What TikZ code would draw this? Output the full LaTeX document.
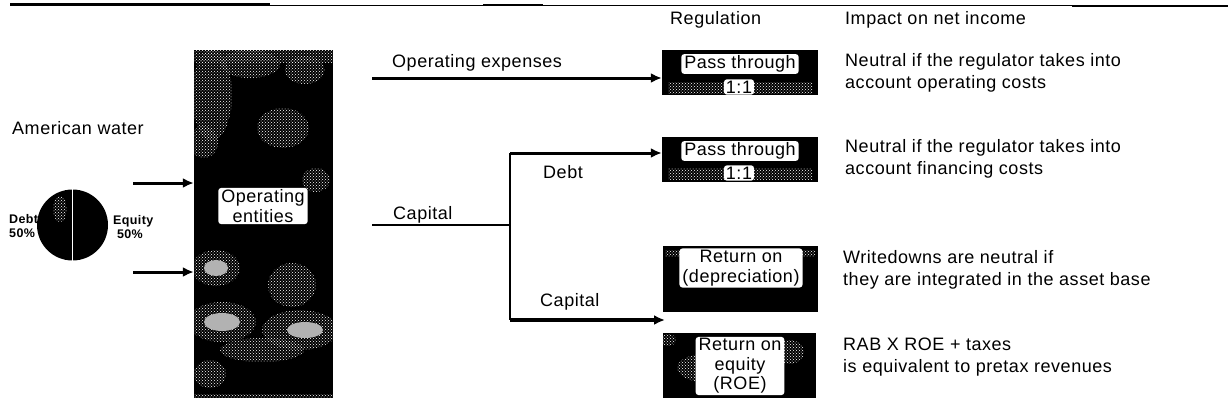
\documentclass[tikz,border=0pt]{standalone}
\usepackage{fontspec}
\setmainfont{Liberation Sans}[LetterSpace=3]
\usetikzlibrary{arrows.meta,patterns}
\begin{document}
\begin{tikzpicture}[x=1pt,y=-1pt,
  txt/.style={font=\fontsize{18}{22}\selectfont, inner sep=0pt, align=left},
  lbl/.style={font=\fontsize{18}{20}\selectfont, fill=white, rounded corners=3pt, inner xsep=3pt, inner ysep=1.5pt, align=center},
  darkbox/.style={fill=black, draw=none, inner sep=0pt},
  dither/.style={pattern=crosshatch dots, pattern color=white},
  light/.style={fill=gray!60},
  arr/.style={line width=3pt, -{Latex[length=11pt,width=10pt]}},
  link/.style={line width=2pt},
  small/.style={font=\bfseries\fontsize{12.5}{14}\selectfont, inner sep=0pt, align=left}]
\useasboundingbox (0,0) rectangle (1228,415);

% top rule
\draw[line width=3pt] (10,4) -- (270,4);
\draw[line width=1.2pt] (270,5.5) -- (1228,5.5);
\draw[line width=2.5pt] (483,5) -- (543,5);
\draw[line width=2.5pt] (1072,6) -- (1228,6);

% left: American water
\node[txt, anchor=west] (amw) at (12,128) {American water};
\node[small, anchor=west] (debtl) at (9,226) {Debt\\50\%};
\node[circle, fill=black, minimum size=71, inner sep=0pt] (pie) at (72.5,225) {};
\fill[dither] (60,209) ellipse [x radius=7, y radius=13];
\draw[white, line width=1.5pt] (pie.north) -- (pie.south);
\node[small, anchor=west] (eql) at (113,227) {Equity\\\ 50\%};

% operating entities box
\node[darkbox, minimum width=139, minimum height=348] (ent) at (263.5,224) {};
\begin{scope}
\clip (ent.north west) rectangle (ent.south east);
\fill[dither] (194,50) rectangle (333,62);
\fill[dither] (212,95) ellipse [x radius=20, y radius=46];
\fill[dither] (250,64) ellipse [x radius=30, y radius=14];
\fill[dither] (305,70) ellipse [x radius=20, y radius=14];
\fill[dither] (283,128) ellipse [x radius=26, y radius=20];
\fill[dither] (204,142) ellipse [x radius=14, y radius=16];
\fill[dither] (316,180) ellipse [x radius=14, y radius=12];
\fill[dither] (216,268) ellipse [x radius=24, y radius=18];
\fill[light] (216,268) ellipse [x radius=12, y radius=8];
\fill[dither] (292,285) ellipse [x radius=24, y radius=22];
\fill[dither] (222,322) ellipse [x radius=34, y radius=20];
\fill[light] (222,322) ellipse [x radius=18, y radius=9];
\fill[dither] (300,330) ellipse [x radius=38, y radius=20];
\fill[light] (305,330) ellipse [x radius=18, y radius=8];
\fill[dither] (262,350) ellipse [x radius=42, y radius=12];
\fill[dither] (210,374) ellipse [x radius=16, y radius=14];
\fill[dither] (194,394) rectangle (333,398);
\end{scope}
\node[lbl] (entl) at (263,206) {Operating\\entities};

\coordinate (in1) at (133,183);
\coordinate (in2) at (133,272);
\draw[arr] (in1) -- (in1 -| ent.west);
\draw[arr] (in2) -- (in2 -| ent.west);

% regulation boxes
\node[darkbox, minimum width=156, minimum height=45] (reg1) at (740,72.5) {};
\node[darkbox, minimum width=156, minimum height=45] (reg2) at (740,159) {};
\node[darkbox, minimum width=155, minimum height=66] (reg3) at (740.5,279) {};
\node[darkbox, minimum width=153, minimum height=65] (reg4) at (739.5,365.5) {};
\fill[dither] (668,82) rectangle (812,93);
\fill[dither] (668,168) rectangle (812,179);
\fill[dither] (665,250) rectangle (815,256);
\fill[dither] (668,340) ellipse [x radius=8, y radius=6];
\fill[dither] (705,368) ellipse [x radius=28, y radius=14];
\fill[dither] (790,352) ellipse [x radius=14, y radius=12];
\node[lbl] (r1a) at (740,64) {Pass through};
\node[lbl, inner xsep=2pt] (r1b) at (739,87) {1:1};
\node[lbl] (r2a) at (740,151) {Pass through};
\node[lbl, inner xsep=2pt] (r2b) at (739,173) {1:1};
\node[lbl] (r3) at (741,268) {Return on\\(depreciation)};
\node[lbl, font=\fontsize{18}{19.5}\selectfont] (r4) at (740,366) {Return on\\equity\\(ROE)};

% connectors
\node[txt, anchor=west] (opex) at (392,63) {Operating expenses};
\coordinate (opstart) at (372,78);
\draw[arr] (opstart) -- (opstart -| reg1.west);

\coordinate (capstart) at (372,225);
\coordinate (junc) at (510,225);
\coordinate (jtop) at (510,153);
\coordinate (jbot) at (510,320);
\coordinate (captip) at (665,320);
\draw[link] (capstart) -- (junc);
\draw[link] (jtop) -- (jbot);
\draw[arr] (jtop) -- (jtop -| reg2.west);
\draw[arr, line width=3.5pt] (jbot) -- (captip);
\node[txt, anchor=west] (capl) at (393,215) {Capital};
\node[txt, anchor=west] (debtb) at (543,172) {Debt};
\node[txt, anchor=west] (capb) at (540,302) {Capital};

% headings
\node[txt, anchor=west] (hreg) at (670,20) {Regulation};
\node[txt, anchor=west] (himp) at (845,20) {Impact on net income};

% impact texts
\node[txt, anchor=west] (i1) at (845,72.5) {Neutral if the regulator takes into\\account operating costs};
\node[txt, anchor=west] (i2) at (845,159) {Neutral if the regulator takes into\\account financing costs};
\node[txt, anchor=west] (i3) at (843,270) {Writedowns are neutral if\\they are integrated in the asset base};
\node[txt, anchor=west] (i4) at (843,357) {RAB X ROE + taxes\\is equivalent to pretax revenues};
\end{tikzpicture}
\end{document}
